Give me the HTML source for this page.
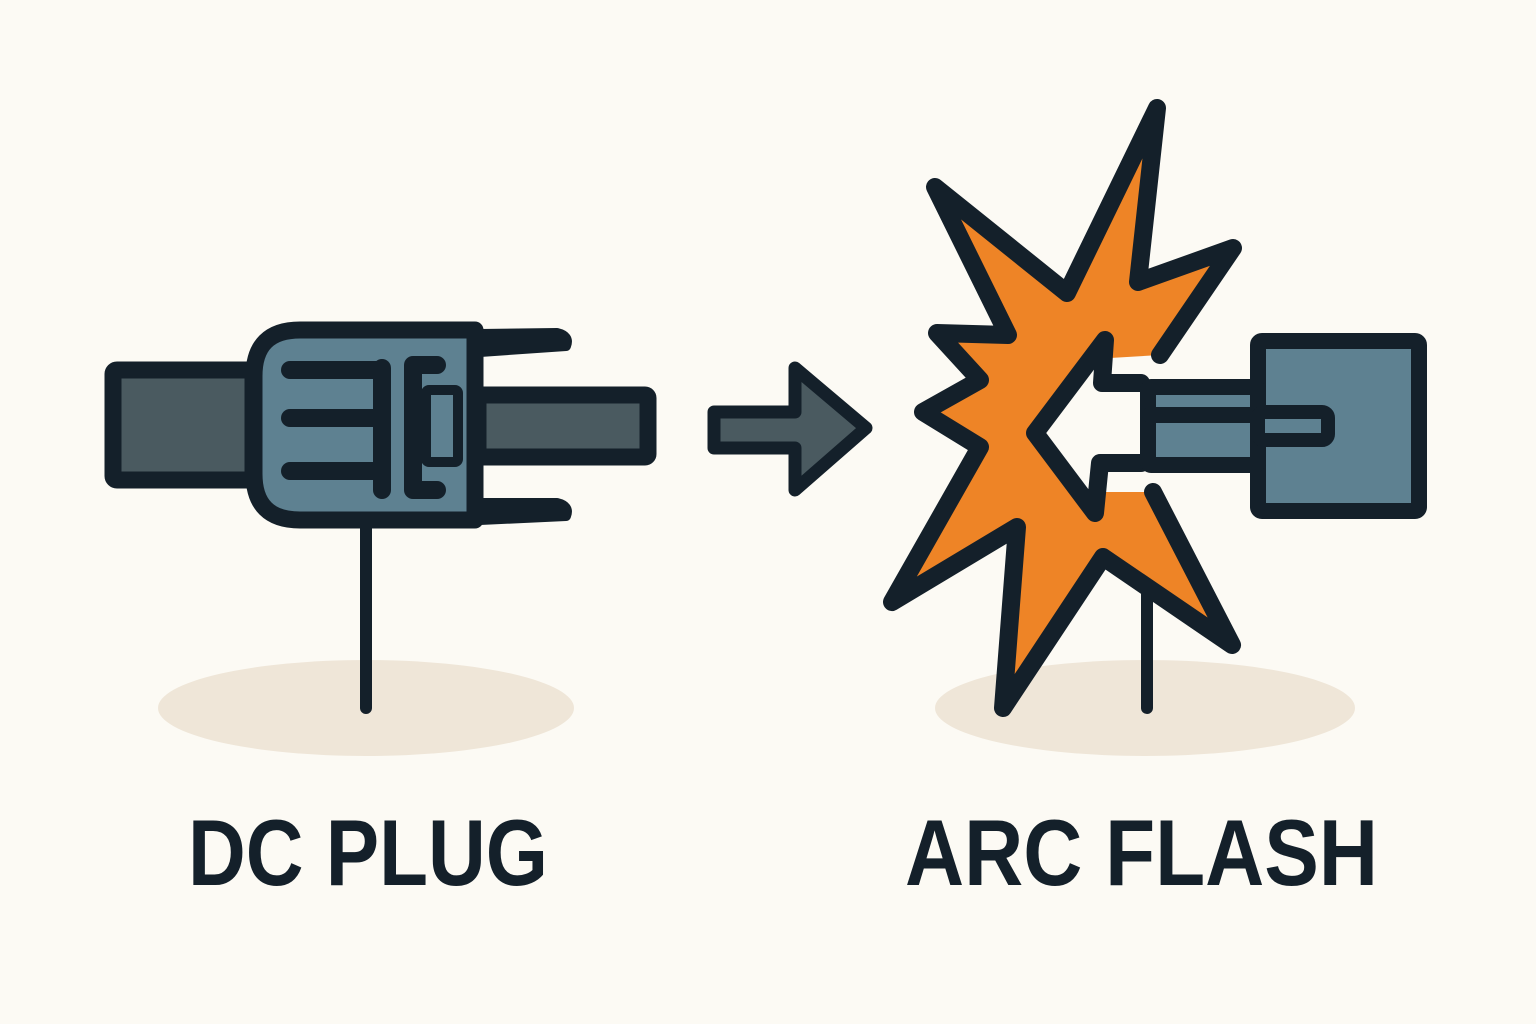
<!DOCTYPE html>
<html><head><meta charset="utf-8"><style>html,body{margin:0;padding:0;background:#fcfaf4}svg{display:block}</style></head>
<body>
<svg width="1536" height="1024" viewBox="0 0 1536 1024" xmlns="http://www.w3.org/2000/svg">
<rect width="1536" height="1024" fill="#fcfaf4"/>
<ellipse cx="366" cy="708" rx="208" ry="48" fill="#efe6d8"/>
<ellipse cx="1145" cy="708" rx="210" ry="48" fill="#efe6d8"/>
<g stroke="#14202a" stroke-linecap="round" stroke-linejoin="round">
<!-- left plug -->
<line x1="366" y1="520" x2="366" y2="708" stroke-width="12"/>
<rect x="113" y="370" width="140" height="110" rx="4" fill="#4a5a60" stroke-width="17"/>
<path d="M480,334 L557,333 Q570,336 566,346 L480,352 Z" fill="#14202a" stroke-width="10"/>
<path d="M480,503 L557,503 Q570,506 566,516 L480,520 Z" fill="#14202a" stroke-width="10"/>
<rect x="478" y="395" width="170" height="62" rx="3" fill="#4a5a60" stroke-width="17"/>
<path d="M300,330 L475,330 L475,520 L300,520 Q254,520 254,474 L254,376 Q254,330 300,330 Z" fill="#5e8191" stroke-width="17"/>
<g stroke-width="18">
<line x1="290" y1="370" x2="380" y2="370"/>
<line x1="290" y1="418" x2="380" y2="418"/>
<line x1="290" y1="471" x2="380" y2="471"/>
<line x1="382" y1="368" x2="382" y2="490"/>
<path d="M437,365 L413,365 L413,490 L437,490" fill="none"/>
</g>
<rect x="426" y="390" width="32" height="72" rx="3" fill="#5e8191" stroke-width="10"/>
<!-- arrow -->
<path d="M714,412 L795,412 L795,368 L866,428 L795,490 L795,448 L714,448 Z" fill="#4a5a60" stroke-width="13"/>
<!-- right pole -->
<line x1="1147" y1="590" x2="1147" y2="708" stroke-width="12"/>
<!-- star fill -->
<polygon points="1157,108 1138,282 1233,248 1160,355 1110,358 1105,340 1035,433 1095,513 1100,492 1153,492 1232,645 1103,557 1003,708 1017,527 892,602 980,447 923,412 980,380 937,333 1008,335 935,187 1067,293" fill="#ee8426" stroke="none"/>
<polygon points="1105,340 1035,433 1095,513 1100,463 1145,463 1145,383 1105,383" fill="#fcfaf4" stroke="none"/>
<polyline points="1160,355 1233,248 1138,282 1157,108 1067,293 935,187 1008,335 937,333 980,380 923,412 980,447 892,602 1017,527 1003,708 1103,557 1232,645 1153,492" fill="none" stroke-width="18"/>
<polyline points="1141,383 1102,383 1105,340 1035,433 1095,513 1100,463 1141,463" fill="none" stroke-width="18"/>
<!-- right plug -->
<rect x="1258" y="341" width="161" height="170" rx="4" fill="#5e8191" stroke-width="16"/>
<rect x="1148" y="387" width="110" height="78" rx="3" fill="#5e8191" stroke-width="16"/>
<line x1="1150" y1="415" x2="1256" y2="415" stroke-width="16"/>
<rect x="1258" y="412" width="70" height="28" rx="6" fill="#5e8191" stroke-width="14"/>
</g>
<g font-family="'Liberation Sans', sans-serif" font-weight="bold" fill="#14202a" font-size="94">
<text x="188" y="885" textLength="360" lengthAdjust="spacingAndGlyphs">DC PLUG</text>
<text x="905" y="885" textLength="473" lengthAdjust="spacingAndGlyphs">ARC FLASH</text>
</g>
</svg>
</body></html>
